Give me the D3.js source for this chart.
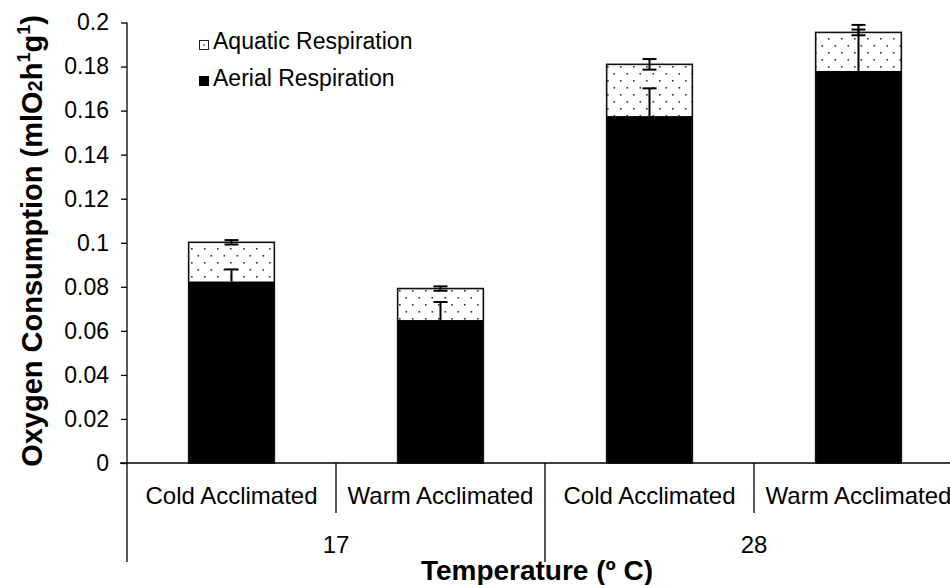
<!DOCTYPE html>
<html>
<head>
<meta charset="utf-8">
<script src="https://cdn.jsdelivr.net/npm/d3@7"></script>
<style>
  body { margin: 0; background: #fff; }
  svg { display: block; font-family: "Liberation Sans", Arial, sans-serif; }
  .tick line, .domain { stroke: #000; stroke-width: 1.3px; }
</style>
</head>
<body>
<div id="chart"></div>
<script>
// data
var temps = ["17", "28"];
var acclim = ["Cold Acclimated", "Warm Acclimated", "Cold Acclimated", "Warm Acclimated"];
var aerial = [0.0824, 0.0649, 0.1575, 0.1780];
var aquatic = [0.0178, 0.0143, 0.0235, 0.0175];
var aerialErr = [0.0055, 0.0082, 0.0126, 0.0209];
var totalErr = [0.0010, 0.0010, 0.0024, 0.0013];
var yTicks = [0, 0.02, 0.04, 0.06, 0.08, 0.1, 0.12, 0.14, 0.16, 0.18, 0.2];

var W = 950, H = 585;
var plotLeft = 127, plotRight = 963, plotTop = 22.5, plotBottom = 463;

var svg = d3.select("#chart").append("svg")
	.attr("width", W)
	.attr("height", H);

var defs = svg.append("defs");
var pat = defs.append("pattern")
	.attr("id", "dots")
	.attr("patternUnits", "userSpaceOnUse")
	.attr("width", 13).attr("height", 14);
pat.append("rect").attr("width", 13).attr("height", 14).attr("fill", "#fff");
pat.append("rect").attr("x", 2.5).attr("y", 3).attr("width", 1.6).attr("height", 1.6).attr("fill", "#333");
pat.append("rect").attr("x", 9).attr("y", 10).attr("width", 1.6).attr("height", 1.6).attr("fill", "#333");

var keys = acclim.map(function(d, i) { return i; });
var x = d3.scaleBand().domain(keys).range([plotLeft, plotRight]).padding(0);
var barW = x.bandwidth() * 0.41;
var y = d3.scaleLinear().domain([0, 0.2]).range([plotBottom, plotTop]);

// y axis
var yAxis = d3.axisLeft(y)
	.tickValues(yTicks)
	.tickSize(6)
	.tickPadding(12)
	.tickFormat(d3.format(".2~f"));
var gy = svg.append("g").attr("transform", "translate(" + plotLeft + ",0)").call(yAxis);
gy.select(".domain").remove();
gy.selectAll("text").attr("font-size", "23px").attr("fill", "#000")
	.style("font-family", "'Liberation Sans', Arial, sans-serif");
svg.append("line")
	.attr("x1", plotLeft).attr("x2", plotLeft)
	.attr("y1", plotTop).attr("y2", 562)
	.attr("stroke", "#000").attr("stroke-width", 1.3);

// bars
var bars = svg.append("g").selectAll("g.bar")
	.data(keys)
	.enter().append("g").classed("bar", true);

function bx(i) { return x(i) + (x.bandwidth() - barW) / 2; }
function cx(i) { return x(i) + x.bandwidth() / 2; }

bars.append("rect")
	.attr("x", bx)
	.attr("width", barW)
	.attr("y", function(i) { return y(aerial[i] + aquatic[i]); })
	.attr("height", function(i) { return y(aerial[i]) - y(aerial[i] + aquatic[i]); })
	.attr("fill", "url(#dots)");
bars.append("rect")
	.attr("x", bx)
	.attr("width", barW)
	.attr("y", function(i) { return y(aerial[i]); })
	.attr("height", function(i) { return plotBottom - y(aerial[i]); })
	.attr("fill", "#000");
bars.append("rect")
	.attr("x", bx)
	.attr("width", barW)
	.attr("y", function(i) { return y(aerial[i] + aquatic[i]); })
	.attr("height", function(i) { return plotBottom - y(aerial[i] + aquatic[i]); })
	.attr("fill", "none")
	.attr("stroke", "#111")
	.attr("stroke-width", 1.6);

// error bars
var cap = 7;
bars.append("line")
	.attr("x1", cx).attr("x2", cx)
	.attr("y1", function(i) { return y(aerial[i]); })
	.attr("y2", function(i) { return y(aerial[i] + aerialErr[i]); })
	.attr("stroke", "#000").attr("stroke-width", 2);
bars.append("line")
	.attr("x1", function(i) { return cx(i) - cap; }).attr("x2", function(i) { return cx(i) + cap; })
	.attr("y1", function(i) { return y(aerial[i] + aerialErr[i]); })
	.attr("y2", function(i) { return y(aerial[i] + aerialErr[i]); })
	.attr("stroke", "#000").attr("stroke-width", 2);
bars.append("line")
	.attr("x1", cx).attr("x2", cx)
	.attr("y1", function(i) { return y(aerial[i] + aquatic[i] - totalErr[i]); })
	.attr("y2", function(i) { return y(aerial[i] + aquatic[i] + totalErr[i]); })
	.attr("stroke", "#000").attr("stroke-width", 2);
[-1, 1].forEach(function(s) {
	bars.append("line")
		.attr("x1", function(i) { return cx(i) - cap; }).attr("x2", function(i) { return cx(i) + cap; })
		.attr("y1", function(i) { return y(aerial[i] + aquatic[i] + s * totalErr[i]); })
		.attr("y2", function(i) { return y(aerial[i] + aquatic[i] + s * totalErr[i]); })
		.attr("stroke", "#000").attr("stroke-width", 2);
});

// x axis, two levels
svg.append("line")
	.attr("x1", 120).attr("x2", W)
	.attr("y1", plotBottom).attr("y2", plotBottom)
	.attr("stroke", "#000").attr("stroke-width", 1.3);
var seps = svg.append("g");
keys.forEach(function(i) {
	if (i === 0) return;
	var long = (i % 2 === 0);
	seps.append("line")
		.attr("x1", x(i)).attr("x2", x(i))
		.attr("y1", plotBottom).attr("y2", long ? 562 : 513)
		.attr("stroke", "#000").attr("stroke-width", 1.3);
});
seps.append("line")
	.attr("x1", plotRight).attr("x2", plotRight)
	.attr("y1", plotBottom).attr("y2", 562)
	.attr("stroke", "#000").attr("stroke-width", 1.3);

svg.append("g").selectAll("text")
	.data(keys)
	.enter().append("text")
	.attr("x", cx)
	.attr("y", 504)
	.attr("text-anchor", "middle")
	.attr("font-size", "24px")
	.text(function(i) { return acclim[i]; });

svg.append("g").selectAll("text")
	.data(temps)
	.enter().append("text")
	.attr("x", function(d, j) { return (x(j * 2) + x(j * 2 + 1) + x.bandwidth()) / 2; })
	.attr("y", 553)
	.attr("text-anchor", "middle")
	.attr("font-size", "24px")
	.text(function(d) { return d; });

svg.append("text")
	.attr("x", 537)
	.attr("y", 580)
	.attr("text-anchor", "middle")
	.attr("font-size", "28px")
	.attr("font-weight", "bold")
	.text("Temperature (\u00ba C)");

// y title
var yt = svg.append("text")
	.attr("transform", "translate(42,241) rotate(-90)")
	.attr("text-anchor", "middle")
	.attr("font-size", "29px")
	.attr("font-weight", "bold");
yt.append("tspan").text("Oxygen Consumption (mlO");
yt.append("tspan").attr("font-size", "20px").text("2");
yt.append("tspan").text("h");
yt.append("tspan").attr("font-size", "18px").attr("dy", -12).text("1");
yt.append("tspan").attr("dy", 12).text("g");
yt.append("tspan").attr("font-size", "18px").attr("dy", -12).text("1");
yt.append("tspan").attr("dy", 12).text(")");

// legend
var legend = svg.append("g");
legend.append("rect")
	.attr("x", 199.5).attr("y", 40.5).attr("width", 9).attr("height", 9)
	.attr("fill", "#fff").attr("stroke", "#222").attr("stroke-width", 1);
legend.append("rect")
	.attr("x", 203.3).attr("y", 44.3).attr("width", 1.5).attr("height", 1.5).attr("fill", "#333");
legend.append("text")
	.attr("x", 213).attr("y", 49)
	.attr("font-size", "23px")
	.text("Aquatic Respiration");
legend.append("rect")
	.attr("x", 199).attr("y", 76).attr("width", 10).attr("height", 10)
	.attr("fill", "#000");
legend.append("text")
	.attr("x", 213).attr("y", 86)
	.attr("font-size", "23px")
	.text("Aerial Respiration");
</script>
</body>
</html>
